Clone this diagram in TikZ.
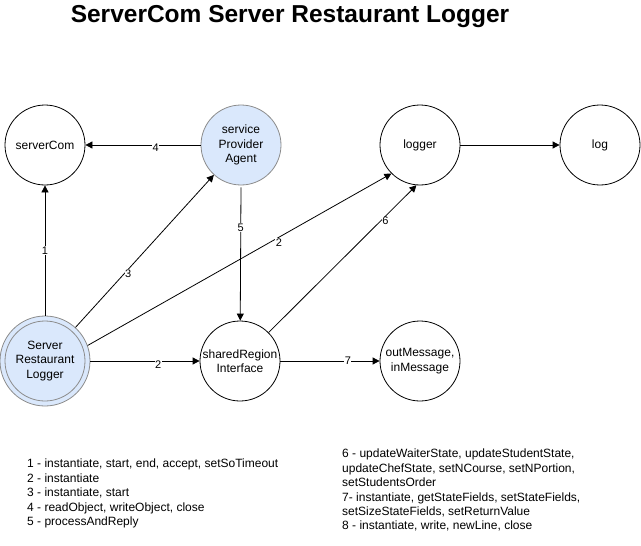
\documentclass[tikz,border=0pt]{standalone}
\usepackage{fontspec}
\setmainfont{Liberation Sans}
\usetikzlibrary{arrows.meta}
\definecolor{nodeblue}{HTML}{DAE8FC}
\definecolor{bluestroke}{HTML}{8C8C8C}
\tikzset{
  x=1pt,y=-1pt,
  circ/.style={circle,draw=black,line width=0.8pt,minimum size=80pt,inner sep=0pt,align=center,font=\fontsize{12}{14.5}\selectfont},
  bluecirc/.style={circ,fill=nodeblue,draw=bluestroke},
  conn/.style={draw=black,line width=0.8pt,-{Triangle[length=7pt,width=7pt]}},
  lbl/.style={fill=white,inner sep=0.5pt,font=\fontsize{11}{12}\selectfont},
  legend/.style={anchor=north west,align=left,inner sep=0pt,font=\fontsize{12}{14.4}\selectfont}
}
\begin{document}
\begin{tikzpicture}
\useasboundingbox[fill=white] (0,0) rectangle (641,546);
\node[font=\bfseries\fontsize{24.5}{28}\selectfont] (title) at (290,17) {ServerCom Server Restaurant Logger};

\node[circ] (sc) at (45,145) {serverCom};
\node[bluecirc] (spa) at (241,145) {service\\Provider\\Agent};
\node[circ] (lg) at (420,145) {logger};
\node[circ] (log) at (600,145) {log};
\node[circle,draw=bluestroke,fill=nodeblue,line width=0.8pt,minimum size=90pt,inner sep=0pt] (srlo) at (45,361) {};
\node[circ,draw=bluestroke,minimum size=80pt] (srl) at (45,361) {Server\\Restaurant\\Logger};
\node[circ] (sri) at (240,361) {sharedRegion\\Interface};
\node[circ] (om) at (420,361) {outMessage,\\inMessage};

\draw[conn] (srlo) -- node[lbl,pos=0.5] {1} (sc);
\draw[conn] (srlo) -- node[lbl,pos=0.38,yshift=-4pt] {3} (spa);
\draw[conn] (srlo.20) -- node[lbl,pos=0.63,yshift=-5pt] {2} (lg.225);
\draw[conn] (srlo) -- node[lbl,pos=0.62,yshift=-4pt] {2} (sri);
\draw[conn] (spa) -- node[lbl,pos=0.39,yshift=-3pt] {4} (sc);
\draw[conn] (spa.south) ++(0,2) coordinate (spab) (spab) -- node[lbl,pos=0.3] {5} (sri);
\draw[conn] (sri) -- node[lbl,pos=0.79,yshift=-5pt] {6} (lg.265);
\draw[conn] (lg) -- (log);
\draw[conn] (sri) -- node[lbl,pos=0.68] {7} (om);

\node[legend] (leg1) at (27,459) {1 - instantiate, start, end, accept, setSoTimeout\\2 - instantiate\\3 - instantiate, start\\4 - readObject, writeObject, close\\5 - processAndReply};
\node[legend] (leg2) at (342,449) {6 - updateWaiterState, updateStudentState,\\updateChefState, setNCourse, setNPortion,\\setStudentsOrder\\7- instantiate, getStateFields, setStateFields,\\setSizeStateFields, setReturnValue\\8 - instantiate, write, newLine, close};
\end{tikzpicture}
\end{document}
